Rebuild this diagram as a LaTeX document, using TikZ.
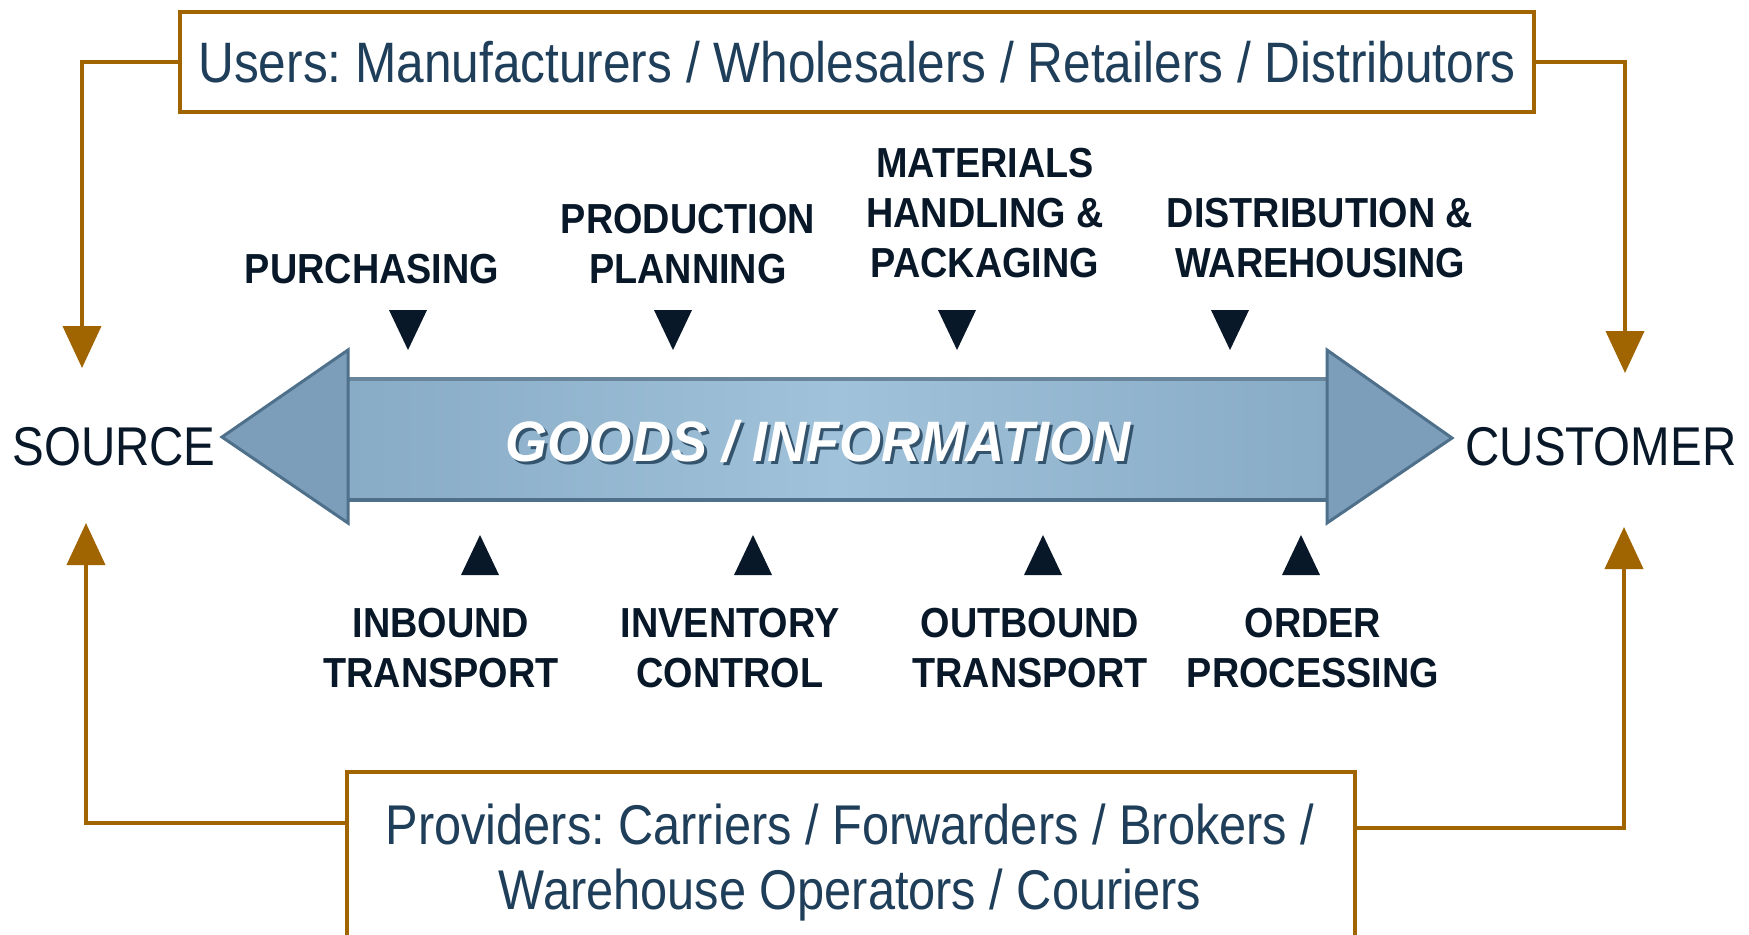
\documentclass[tikz,border=0pt]{standalone}
\usepackage{fontspec}
\setmainfont{Liberation Sans}
\newfontfamily\narrowsans[FakeStretch=0.87]{Liberation Sans}
\newfontfamily\labelsans[FakeStretch=0.9]{Liberation Sans}
\newfontfamily\bannersans[FakeStretch=0.95]{Liberation Sans}
\usetikzlibrary{arrows.meta}
\frenchspacing

\definecolor{linkbrown}{RGB}{160,100,0}
\definecolor{textblue}{RGB}{30,62,90}
\definecolor{labelink}{RGB}{8,24,40}
\definecolor{shaftfill}{RGB}{136,171,198}
\definecolor{shaftlight}{RGB}{160,194,218}
\definecolor{shaftedge}{RGB}{78,112,138}
\definecolor{headfill}{RGB}{124,158,186}
\definecolor{bannershadow}{RGB}{52,84,110}

\tikzset{
  linkline/.style={draw=linkbrown, line width=2pt,
    -{Triangle[length=21pt 0 0, width=19pt 0 0]}},
  userbox/.style={draw=linkbrown, line width=2pt, fill=white, inner sep=0pt,
    minimum width=677pt, minimum height=50pt, text=textblue,
    font=\narrowsans\fontsize{28.5}{34}\selectfont},
  provbox/.style={draw=linkbrown, line width=2pt, fill=white, inner sep=0pt,
    minimum width=504pt, minimum height=160pt, anchor=north},
  provtext/.style={inner sep=0pt, anchor=north, align=center, text=textblue,
    font=\narrowsans\fontsize{28}{32.5}\selectfont},
  toplabel/.style={inner sep=0pt, align=center, text=labelink,
    font=\labelsans\bfseries\fontsize{21}{25}\selectfont},
  endlabel/.style={inner sep=0pt, text=labelink,
    font=\narrowsans\fontsize{27.3}{32}\selectfont},
  bannertext/.style={inner sep=0pt,
    font=\bannersans\bfseries\itshape\fontsize{28.5}{34}\selectfont},
  marker/.style={fill=labelink},
}

\begin{document}
\begin{tikzpicture}[x=0.5pt, y=-0.5pt]
  \useasboundingbox (0,0) rectangle (1749,934);
  \fill[white] (0,0) rectangle (1749,934);
  \clip (0,0) rectangle (1749,934);

  % boxes for the two groups of parties
  \node[userbox] (users) at (857,62)
    {Users: Manufacturers / Wholesalers / Retailers / Distributors};
  \node[provbox] (provbox) at (851,770) {};
  \node[provtext] (provtext) at (850,803)
    {Providers: Carriers / Forwarders / Brokers /\\Warehouse Operators / Couriers};

  % end points of the flow
  \node[endlabel] (source) at (114,447) {SOURCE};
  \node[endlabel] (customer) at (1601,447) {CUSTOMER};

  % brown links from the boxes to both ends
  \coordinate (srcTop) at (82,368);
  \coordinate (custTop) at (1625,373);
  \coordinate (srcBot) at (86,523);
  \coordinate (custBot) at (1624,527);
  \draw[linkline] (users.west) -| (srcTop);
  \draw[linkline] (users.east) -| (custTop);
  \draw[linkline] ([yshift=-26.5pt]provbox.north west) -| (srcBot);
  \draw[linkline] ([yshift=-29pt]provbox.north east) -| (custBot);

  % double-headed flow arrow
  \shade[left color=shaftfill, right color=shaftfill, middle color=shaftlight]
    (348,379) rectangle (1327,500);
  \draw[shaftedge!85, line width=2pt] (348,379) -- (1327,379);
  \draw[shaftedge, line width=2pt] (348,500) -- (1327,500);
  \filldraw[fill=headfill, draw=shaftedge, line width=1.5pt, line join=miter]
    (348,350) -- (222,437) -- (348,523) -- cycle;
  \filldraw[fill=headfill, draw=shaftedge, line width=1.5pt, line join=miter]
    (1327,350) -- (1452,438) -- (1327,523) -- cycle;
  \node[bannertext, text=bannershadow] (goodsshadow) at (821,444) {GOODS / INFORMATION};
  \node[bannertext, text=white] (goods) at (818,441) {GOODS / INFORMATION};

  % activities above the flow
  \node[toplabel] (purchasing) at (372,269) {PURCHASING};
  \node[toplabel] (production) at (688,244) {PRODUCTION\\PLANNING};
  \node[toplabel] (materials) at (985,213) {MATERIALS\\HANDLING \&\\PACKAGING};
  \node[toplabel] (distribution) at (1320,238) {DISTRIBUTION \&\\WAREHOUSING};
  \foreach \x in {408,673,957,1230}
    \fill[marker] (\x-19,310) -- (\x+19,310) -- (\x,350) -- cycle;

  % activities below the flow
  \node[toplabel] (inbound) at (441,648) {INBOUND\\TRANSPORT};
  \node[toplabel] (inventory) at (730,648) {INVENTORY\\CONTROL};
  \node[toplabel] (outbound) at (1030,648) {OUTBOUND\\TRANSPORT};
  \node[toplabel] (order) at (1313,648) {ORDER\\PROCESSING};
  \foreach \x in {480,753,1043,1301}
    \fill[marker] (\x-19,575) -- (\x+19,575) -- (\x,535) -- cycle;
\end{tikzpicture}
\end{document}
